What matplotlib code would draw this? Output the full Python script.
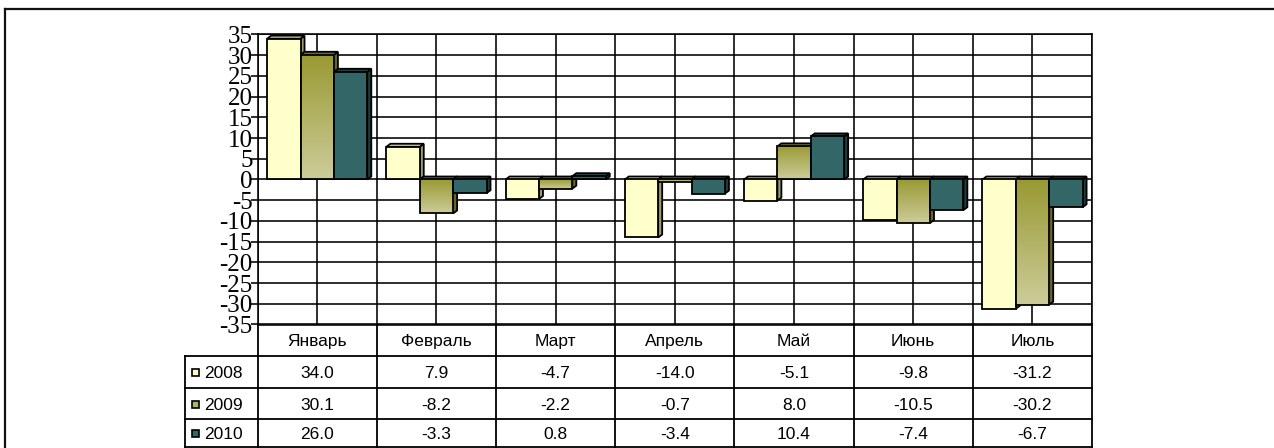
import numpy as np
import matplotlib
matplotlib.use("Agg")
import matplotlib.pyplot as plt
from matplotlib.patches import Polygon, Rectangle
from matplotlib.lines import Line2D
from matplotlib.colors import to_rgb

# ---------------- data ----------------
categories = ["Январь", "Февраль", "Март", "Апрель", "Май", "Июнь", "Июль"]
series_names = ["2008", "2009", "2010"]
v2008 = [34.0, 7.9, -4.7, -14.0, -5.1, -9.8, -31.2]
v2009 = [30.1, -8.2, -2.2, -0.7, 8.0, -10.5, -30.2]
v2010 = [26.0, -3.3, 0.8, -3.4, 10.4, -7.4, -6.7]
table_labels = [
    ["34.0", "7.9", "-4.7", "-14.0", "-5.1", "-9.8", "-31.2"],
    ["30.1", "-8.2", "-2.2", "-0.7", "8.0", "-10.5", "-30.2"],
    ["26.0", "-3.3", "0.8", "-3.4", "10.4", "-7.4", "-6.7"],
]
y_ticks = list(range(-35, 40, 5))

# ---------------- styles ----------------
W, H = 1274, 448
front_colors = ["#FFFFCC", None, "#336666"]
grad_top, grad_bot = "#999933", "#CCCC99"
side_colors = ["#9C9C70", "#666633", "#1E3C3C"]
top_colors = ["#D9D9A6", "#77773A", "#264848"]
key_colors = ["#FFFFCC", "#B2B26B", "#336666"]

fig = plt.figure(figsize=(W / 100, H / 100), dpi=100)

# plot area in pixel coordinates (top-origin)
L, R, T, B = 257.5, 1092.0, 34.5, 324.5
ax = fig.add_axes([L / W, (H - B) / H, (R - L) / W, (B - T) / H])
n = len(categories)
ax.set_xlim(0, n)
ax.set_ylim(-35, 35)

# grid
for yv in y_ticks:
    ax.axhline(yv, color="black", lw=1.15, zorder=1)
for k in range(2 * n + 1):
    ax.axvline(k * 0.5, color="black", lw=1.15, zorder=1)

for s in ax.spines.values():
    s.set_color("black")
    s.set_linewidth(1.15)

ax.set_xticks([])
ax.set_yticks(y_ticks)
ax.set_yticklabels([str(t) for t in y_ticks], fontfamily="Liberation Serif", fontsize=18)
ax.tick_params(axis="y", direction="out", length=5, width=1.15, pad=-1.5)

# bars with 3D look
start, bw = 0.081, 0.28
dx = 4.0 / ((R - L) / n)
dy = 3.0 / ((B - T) / 70.0)
all_vals = [v2008, v2009, v2010]
edge = dict(edgecolor="black", linewidth=1.3)
zs = 3
for i in range(n):
    for j, vals in enumerate(all_vals):
        v = vals[i]
        x0 = i + start + j * bw
        x1 = x0 + bw
        top = max(v, 0.0)
        bot = min(v, 0.0)
        # side face
        side = Polygon([(x1, bot), (x1, top), (x1 + dx, top + dy), (x1 + dx, bot + dy)],
                       closed=True, facecolor=side_colors[j], zorder=zs, **edge)
        ax.add_patch(side)
        # top face
        topf = Polygon([(x0, top), (x1, top), (x1 + dx, top + dy), (x0 + dx, top + dy)],
                       closed=True, facecolor=top_colors[j], zorder=zs, **edge)
        ax.add_patch(topf)
        # front face
        if j == 1:
            c1 = np.array(to_rgb(grad_top))
            c2 = np.array(to_rgb(grad_bot))
            t = np.linspace(0, 1, 64)[:, None]
            img = (c1 * (1 - t) + c2 * t)[:, None, :]
            ax.imshow(img, extent=[x0, x1, bot, top], origin="upper",
                      aspect="auto", interpolation="bilinear", zorder=zs)
            ax.add_patch(Rectangle((x0, bot), bw, top - bot, facecolor="none", zorder=zs, **edge))
        else:
            ax.add_patch(Rectangle((x0, bot), bw, top - bot, facecolor=front_colors[j],
                                   zorder=zs, **edge))
        zs += 1
ax.set_xlim(0, n)
ax.set_ylim(-35, 35)

# ---------------- overlay for table and frame ----------------
ov = fig.add_axes([0, 0, 1, 1], zorder=-1)
ov.set_xlim(0, W)
ov.set_ylim(H, 0)
ov.axis("off")

lw_t = 1.3
row_y = [B, 356.5, 388.5, 419.5, 447.0]
tab_left = 185.0
col_w = (R - L) / n
col_x = [L + k * col_w for k in range(n + 1)]

# horizontal table lines
ov.add_line(Line2D([L, R], [row_y[0], row_y[0]], color="black", lw=lw_t))
for yy in row_y[1:]:
    ov.add_line(Line2D([tab_left, R], [yy, yy], color="black", lw=lw_t))
# vertical table lines
for xx in col_x:
    ov.add_line(Line2D([xx, xx], [row_y[0], row_y[-1]], color="black", lw=lw_t))
ov.add_line(Line2D([tab_left, tab_left], [row_y[1], row_y[-1]], color="black", lw=lw_t))

tfont = dict(fontfamily="Liberation Sans", fontsize=12.5, ha="center", va="center")
for k, cat in enumerate(categories):
    ov.text(col_x[k] + col_w / 2, (row_y[0] + row_y[1]) / 2 + 1, cat, **tfont)
for r in range(3):
    yc = (row_y[r + 1] + row_y[r + 2]) / 2 + 1
    for k in range(n):
        ov.text(col_x[k] + col_w / 2, yc, table_labels[r][k], **tfont)
    ov.add_patch(Rectangle((192, yc - 4), 7, 7, facecolor=key_colors[r],
                           edgecolor="black", lw=1.2))
    ov.text(204, yc, series_names[r], fontfamily="Liberation Sans", fontsize=12.5,
            ha="left", va="center")

# outer frame
ov.add_line(Line2D([5, W], [9, 9], color="#111111", lw=1.6))
ov.add_line(Line2D([5, 5], [9, H], color="#111111", lw=1.6))

fig.savefig("out.png", dpi=100)
